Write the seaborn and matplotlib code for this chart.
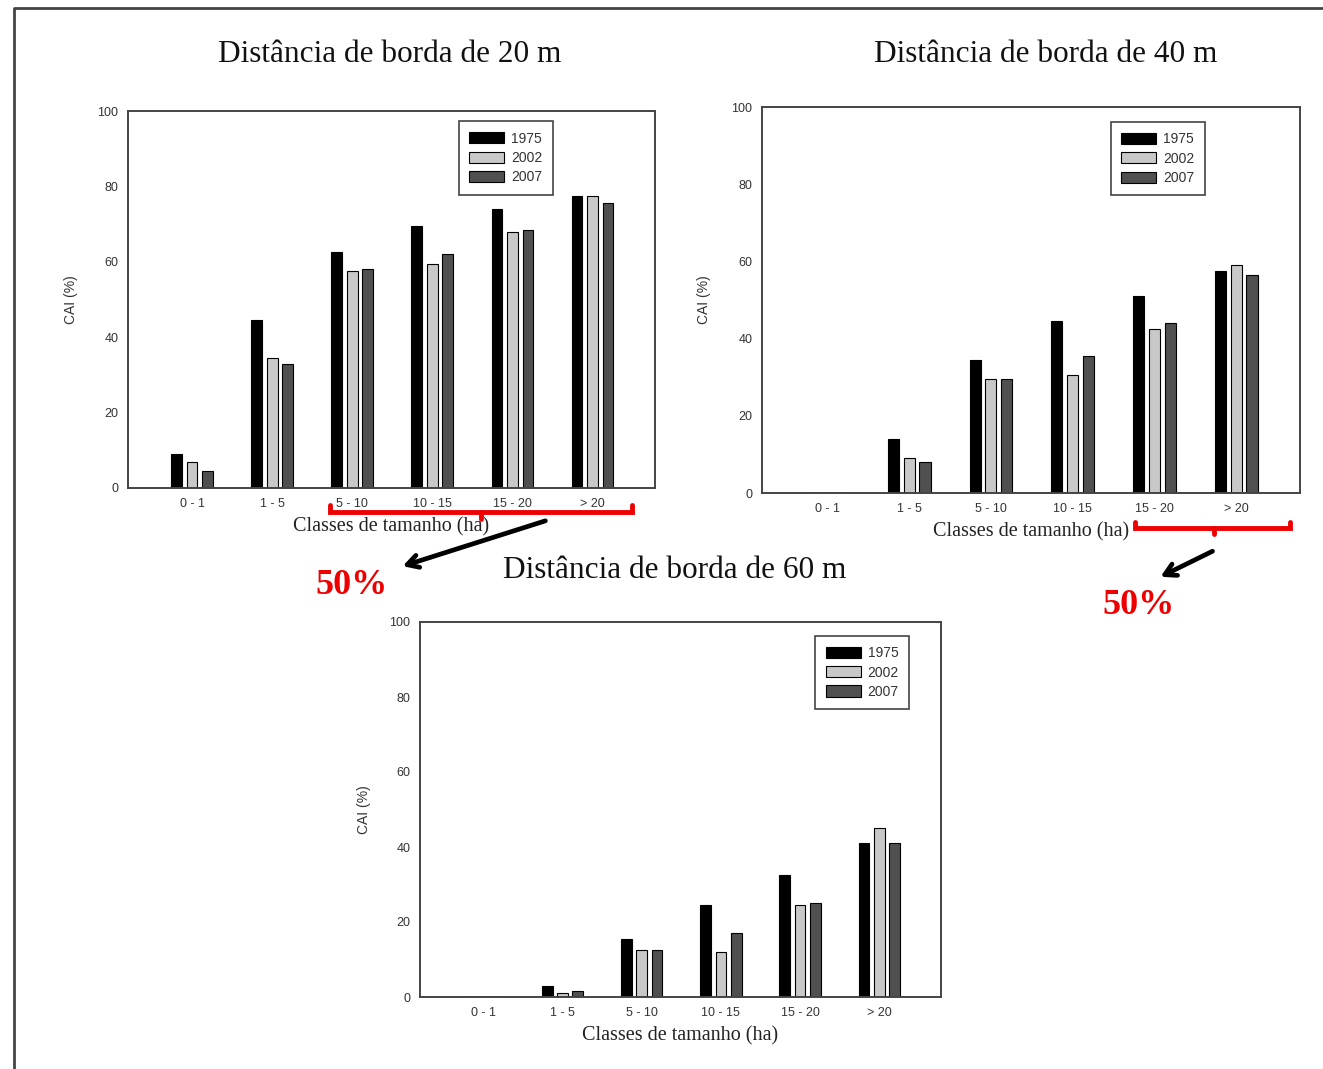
import numpy as np
import pandas as pd
import matplotlib
matplotlib.use("Agg")
import matplotlib.pyplot as plt
from matplotlib.lines import Line2D
import seaborn as sns

# ---------------- data ----------------
classes = ["0 - 1", "1 - 5", "5 - 10", "10 - 15", "15 - 20", "> 20"]
years = ["1975", "2002", "2007"]

cai_20_1975 = [9.0, 44.5, 62.5, 69.5, 74.0, 77.5]
cai_20_2002 = [7.0, 34.5, 57.5, 59.5, 68.0, 77.5]
cai_20_2007 = [4.5, 33.0, 58.0, 62.0, 68.5, 75.5]

cai_40_1975 = [0.0, 14.0, 34.5, 44.5, 51.0, 57.5]
cai_40_2002 = [0.0, 9.0, 29.5, 30.5, 42.5, 59.0]
cai_40_2007 = [0.0, 8.0, 29.5, 35.5, 44.0, 56.5]

cai_60_1975 = [0.0, 3.0, 15.5, 24.5, 32.5, 41.0]
cai_60_2002 = [0.0, 1.2, 12.5, 12.0, 24.5, 45.0]
cai_60_2007 = [0.0, 1.5, 12.5, 17.0, 25.0, 41.0]

titles = ["Distância de borda de 20 m", "Distância de borda de 40 m",
          "Distância de borda de 60 m"]
xlabel = "Classes de tamanho (ha)"
ylabel = "CAI (%)"
yticks = [0, 20, 40, 60, 80, 100]
annot_text = "50%"

colors = ["#000000", "#c8c8c8", "#505050"]


def long_df(a, b, c):
    rows = []
    for yr, vals in zip(years, [a, b, c]):
        for cl, v in zip(classes, vals):
            rows.append({"classe": cl, "ano": yr, "cai": v})
    return pd.DataFrame(rows)


datasets = [long_df(cai_20_1975, cai_20_2002, cai_20_2007),
            long_df(cai_40_1975, cai_40_2002, cai_40_2007),
            long_df(cai_60_1975, cai_60_2002, cai_60_2007)]

# ---------------- figure ----------------
sns.set_style("white")
plt.rcParams["font.family"] = ["Liberation Sans", "DejaVu Sans"]

W, H = 1323, 1069
fig = plt.figure(figsize=(W / 100, H / 100), dpi=100)


def ax_rect(x0, y0, x1, y1):
    return [x0 / W, 1 - y1 / H, (x1 - x0) / W, (y1 - y0) / H]


rects = [ax_rect(128, 111, 655, 488),
         ax_rect(762, 107, 1300, 493),
         ax_rect(420, 622, 941, 997)]
legend_anchor = [(0.806, 0.973), (0.823, 0.961), (0.939, 0.963)]
title_pos = [(390, 54), (1046, 54), (675, 571)]

for i, (df, r) in enumerate(zip(datasets, rects)):
    ax = fig.add_axes(r)
    sns.barplot(data=df, x="classe", y="cai", hue="ano", order=classes,
                hue_order=years, palette=colors, width=0.58, gap=0.3,
                edgecolor="black", linewidth=0.8, errorbar=None, ax=ax)
    ax.set_ylim(0, 100)
    ax.set_xlim(-0.8, 5.78)
    ax.set_yticks(yticks)
    ax.set_yticklabels([str(t) for t in yticks])
    for s in ax.spines.values():
        s.set_color("#444444")
        s.set_linewidth(1.4)
    ax.tick_params(axis="both", direction="out", length=3, width=1,
                   color="#444444", labelsize=9, labelcolor="#333333", pad=4)
    ax.set_ylabel(ylabel, fontsize=10, color="#333333")
    ax.yaxis.set_label_coords(-0.095, 0.5)
    ax.set_xlabel(xlabel, fontsize=14.5, family=["Liberation Serif"],
                  color="#222222")
    ax.xaxis.set_label_coords(0.5, -0.077)
    leg = ax.legend(loc="upper right", bbox_to_anchor=legend_anchor[i],
                    borderaxespad=0, fancybox=False, framealpha=1,
                    edgecolor="#444444", fontsize=10, handlelength=2.5,
                    handleheight=0.85, labelspacing=0.38, borderpad=0.75,
                    handletextpad=0.5, title=None)
    leg.get_frame().set_linewidth(1.2)
    for t in leg.get_texts():
        t.set_color("#333333")
    tx, ty = title_pos[i]
    fig.text(tx / W, 1 - ty / H, titles[i], ha="center", va="center",
             fontsize=22.5, family=["Liberation Serif"], color="#111111")


def P(x, y):
    return (x / W, 1 - y / H)


def fig_line(xs, ys, **kw):
    pts = [P(x, y) for x, y in zip(xs, ys)]
    fig.add_artist(Line2D([p[0] for p in pts], [p[1] for p in pts],
                          transform=fig.transFigure, **kw))


# outer frame
fig_line([14, 14, 1330], [1075, 8, 8], color="#444444", lw=2)

# red brackets
red = "#ee0000"
fig_line([330, 330, 632, 632], [505, 512, 512, 505], color=red, lw=3.5,
         solid_joinstyle="miter")
fig_line([481, 481], [512, 519], color=red, lw=3.5)
fig_line([1135, 1135, 1290, 1290], [522, 528, 528, 522], color=red, lw=3.5,
         solid_joinstyle="miter")
fig_line([1214, 1214], [528, 534], color=red, lw=3.5)

# arrows
for (x0, y0), (x1, y1) in [((548, 520), (400, 567)),
                           ((1215, 550), (1158, 578))]:
    fig.add_artist(plt.Annotation(
        "", xy=P(x1, y1), xytext=P(x0, y0),
        xycoords=fig.transFigure, textcoords=fig.transFigure,
        arrowprops=dict(arrowstyle="->,head_length=0.8,head_width=0.45",
                        lw=3.4, color="black")))

fig.text(*P(352, 585), annot_text, ha="center", va="center", fontsize=26,
         fontweight="bold", family=["Liberation Serif"], color=red)
fig.text(*P(1139, 605), annot_text, ha="center", va="center", fontsize=26,
         fontweight="bold", family=["Liberation Serif"], color=red)

fig.savefig("out.png", dpi=100)
